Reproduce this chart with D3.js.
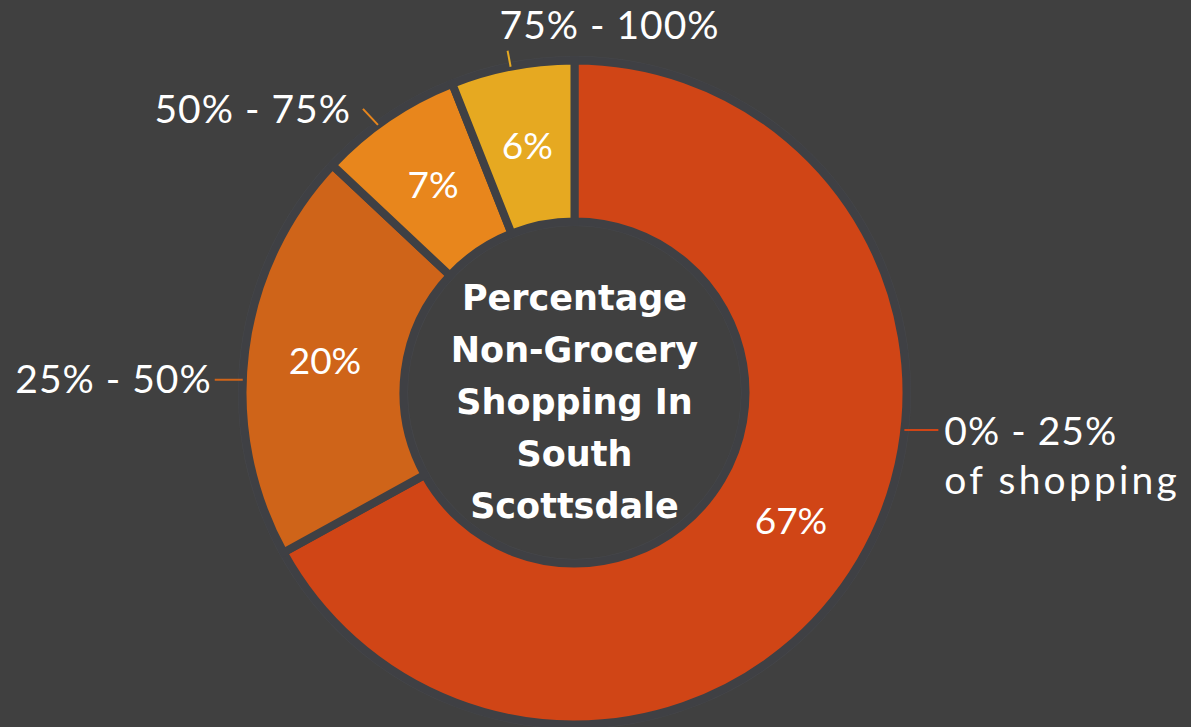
<!DOCTYPE html>
<html>
<head>
<meta charset="utf-8">
<script src="https://cdn.jsdelivr.net/npm/d3@7/dist/d3.min.js"></script>
<style>
  html, body { margin: 0; padding: 0; background: #404040; }
  svg { display: block; }
</style>
</head>
<body>
<svg id="chart" width="1191" height="727"></svg>
<script>
// ---- data ----
const categories = ["0% - 25% of shopping", "25% - 50%", "50% - 75%", "75% - 100%"];
const categoryLines = [["0% - 25%", "of shopping"], ["25% - 50%"], ["50% - 75%"], ["75% - 100%"]];
const values = [67, 20, 7, 6];
const valueLabels = ["67%", "20%", "7%", "6%"];
const titleLines = ["Percentage", "Non-Grocery", "Shopping In", "South", "Scottsdale"];
const colors = ["#D04516", "#CF6419", "#E8861C", "#E6A921"];

// ---- layout (positions/styles, not data) ----
const W = 1191, H = 727;
const cx = 574.5, cy = 392.5;
const rOuter = 332, rInner = 171;
const bg = "#404040";
// outer label layout: anchor angle on outer edge (deg), leader vector, text offset from leader end, anchor
const labelLayout = [
  { ang: 96.5, ldx: 34, ldy: 0, tx: 6, ty: 15, anchor: "start" },
  { ang: 272.2, ldx: -28, ldy: 0, tx: -3, ty: 13, anchor: "end" },
  { ang: 323.7, ldx: -15, ldy: -16, tx: -12, ty: 14, anchor: "end" },
  { ang: 348.9, ldx: -3, ldy: -16, tx: 102, ty: -12, anchor: "middle" }
];

const svg = d3.select("#chart");
svg.append("rect").attr("width", W).attr("height", H).attr("fill", bg);

const g = svg.append("g").attr("transform", `translate(${cx},${cy})`);

const pie = d3.pie().sort(null).value(d => d.v).startAngle(0).endAngle(2 * Math.PI);
const data = values.map((v, i) => ({ v, i }));
const arcs = pie(data);

const arc = d3.arc().innerRadius(rInner).outerRadius(rOuter);

// subtle halo around ring
g.append("circle").attr("r", rOuter + 2).attr("fill", "none")
  .attr("stroke", "#46474b").attr("stroke-width", 5);
g.append("circle").attr("r", rInner - 2).attr("fill", "none")
  .attr("stroke", "#46474b").attr("stroke-width", 5);

g.selectAll("path.slice").data(arcs).enter().append("path")
  .attr("class", "slice")
  .attr("d", arc)
  .attr("fill", d => colors[d.data.i])
  .attr("stroke", "#3f4044")
  .attr("stroke-width", 8)
  .attr("stroke-linejoin", "miter");

// value labels
g.selectAll("text.val").data(arcs).enter().append("text")
  .attr("class", "val")
  .attr("transform", d => `translate(${arc.centroid(d)})`)
  .attr("text-anchor", "middle")
  .attr("dy", "0.36em")
  .attr("fill", "#ffffff")
  .attr("font-family", "Lato, 'Open Sans', sans-serif")
  .attr("font-weight", 400)
  .attr("font-size", 37)
  .text(d => valueLabels[d.data.i]);

// outer labels with leaders
arcs.forEach((d, i) => {
  const L = labelLayout[i];
  const a = L.ang * Math.PI / 180;
  const x0 = Math.sin(a) * rOuter, y0 = -Math.cos(a) * rOuter;
  const x1 = x0 + L.ldx, y1 = y0 + L.ldy;
  g.append("line")
    .attr("x1", x0).attr("y1", y0).attr("x2", x1).attr("y2", y1)
    .attr("stroke", colors[i]).attr("stroke-width", 2);
  const t = g.append("text")
    .attr("x", x1 + L.tx).attr("y", y1 + L.ty)
    .attr("text-anchor", L.anchor)
    .attr("fill", "#ffffff")
    .attr("font-family", "Lato, 'Open Sans', sans-serif")
    .attr("font-weight", 400)
    .attr("font-size", 39)
    .attr("letter-spacing", 1);
  categoryLines[i].forEach((ln, k) => {
    t.append("tspan").attr("x", x1 + L.tx).attr("dy", k === 0 ? 0 : 49)
      .attr("letter-spacing", k === 0 ? 1 : 3.2)
      .text(ln);
  });
});

// center title
const title = g.append("text")
  .attr("text-anchor", "middle")
  .attr("fill", "#ffffff")
  .attr("font-family", "'DejaVu Sans', sans-serif")
  .attr("font-weight", "bold")
  .attr("font-size", 35);
titleLines.forEach((ln, k) => {
  title.append("tspan").attr("x", 0).attr("y", -82.5 + k * 52).text(ln);
});
</script>
</body>
</html>
